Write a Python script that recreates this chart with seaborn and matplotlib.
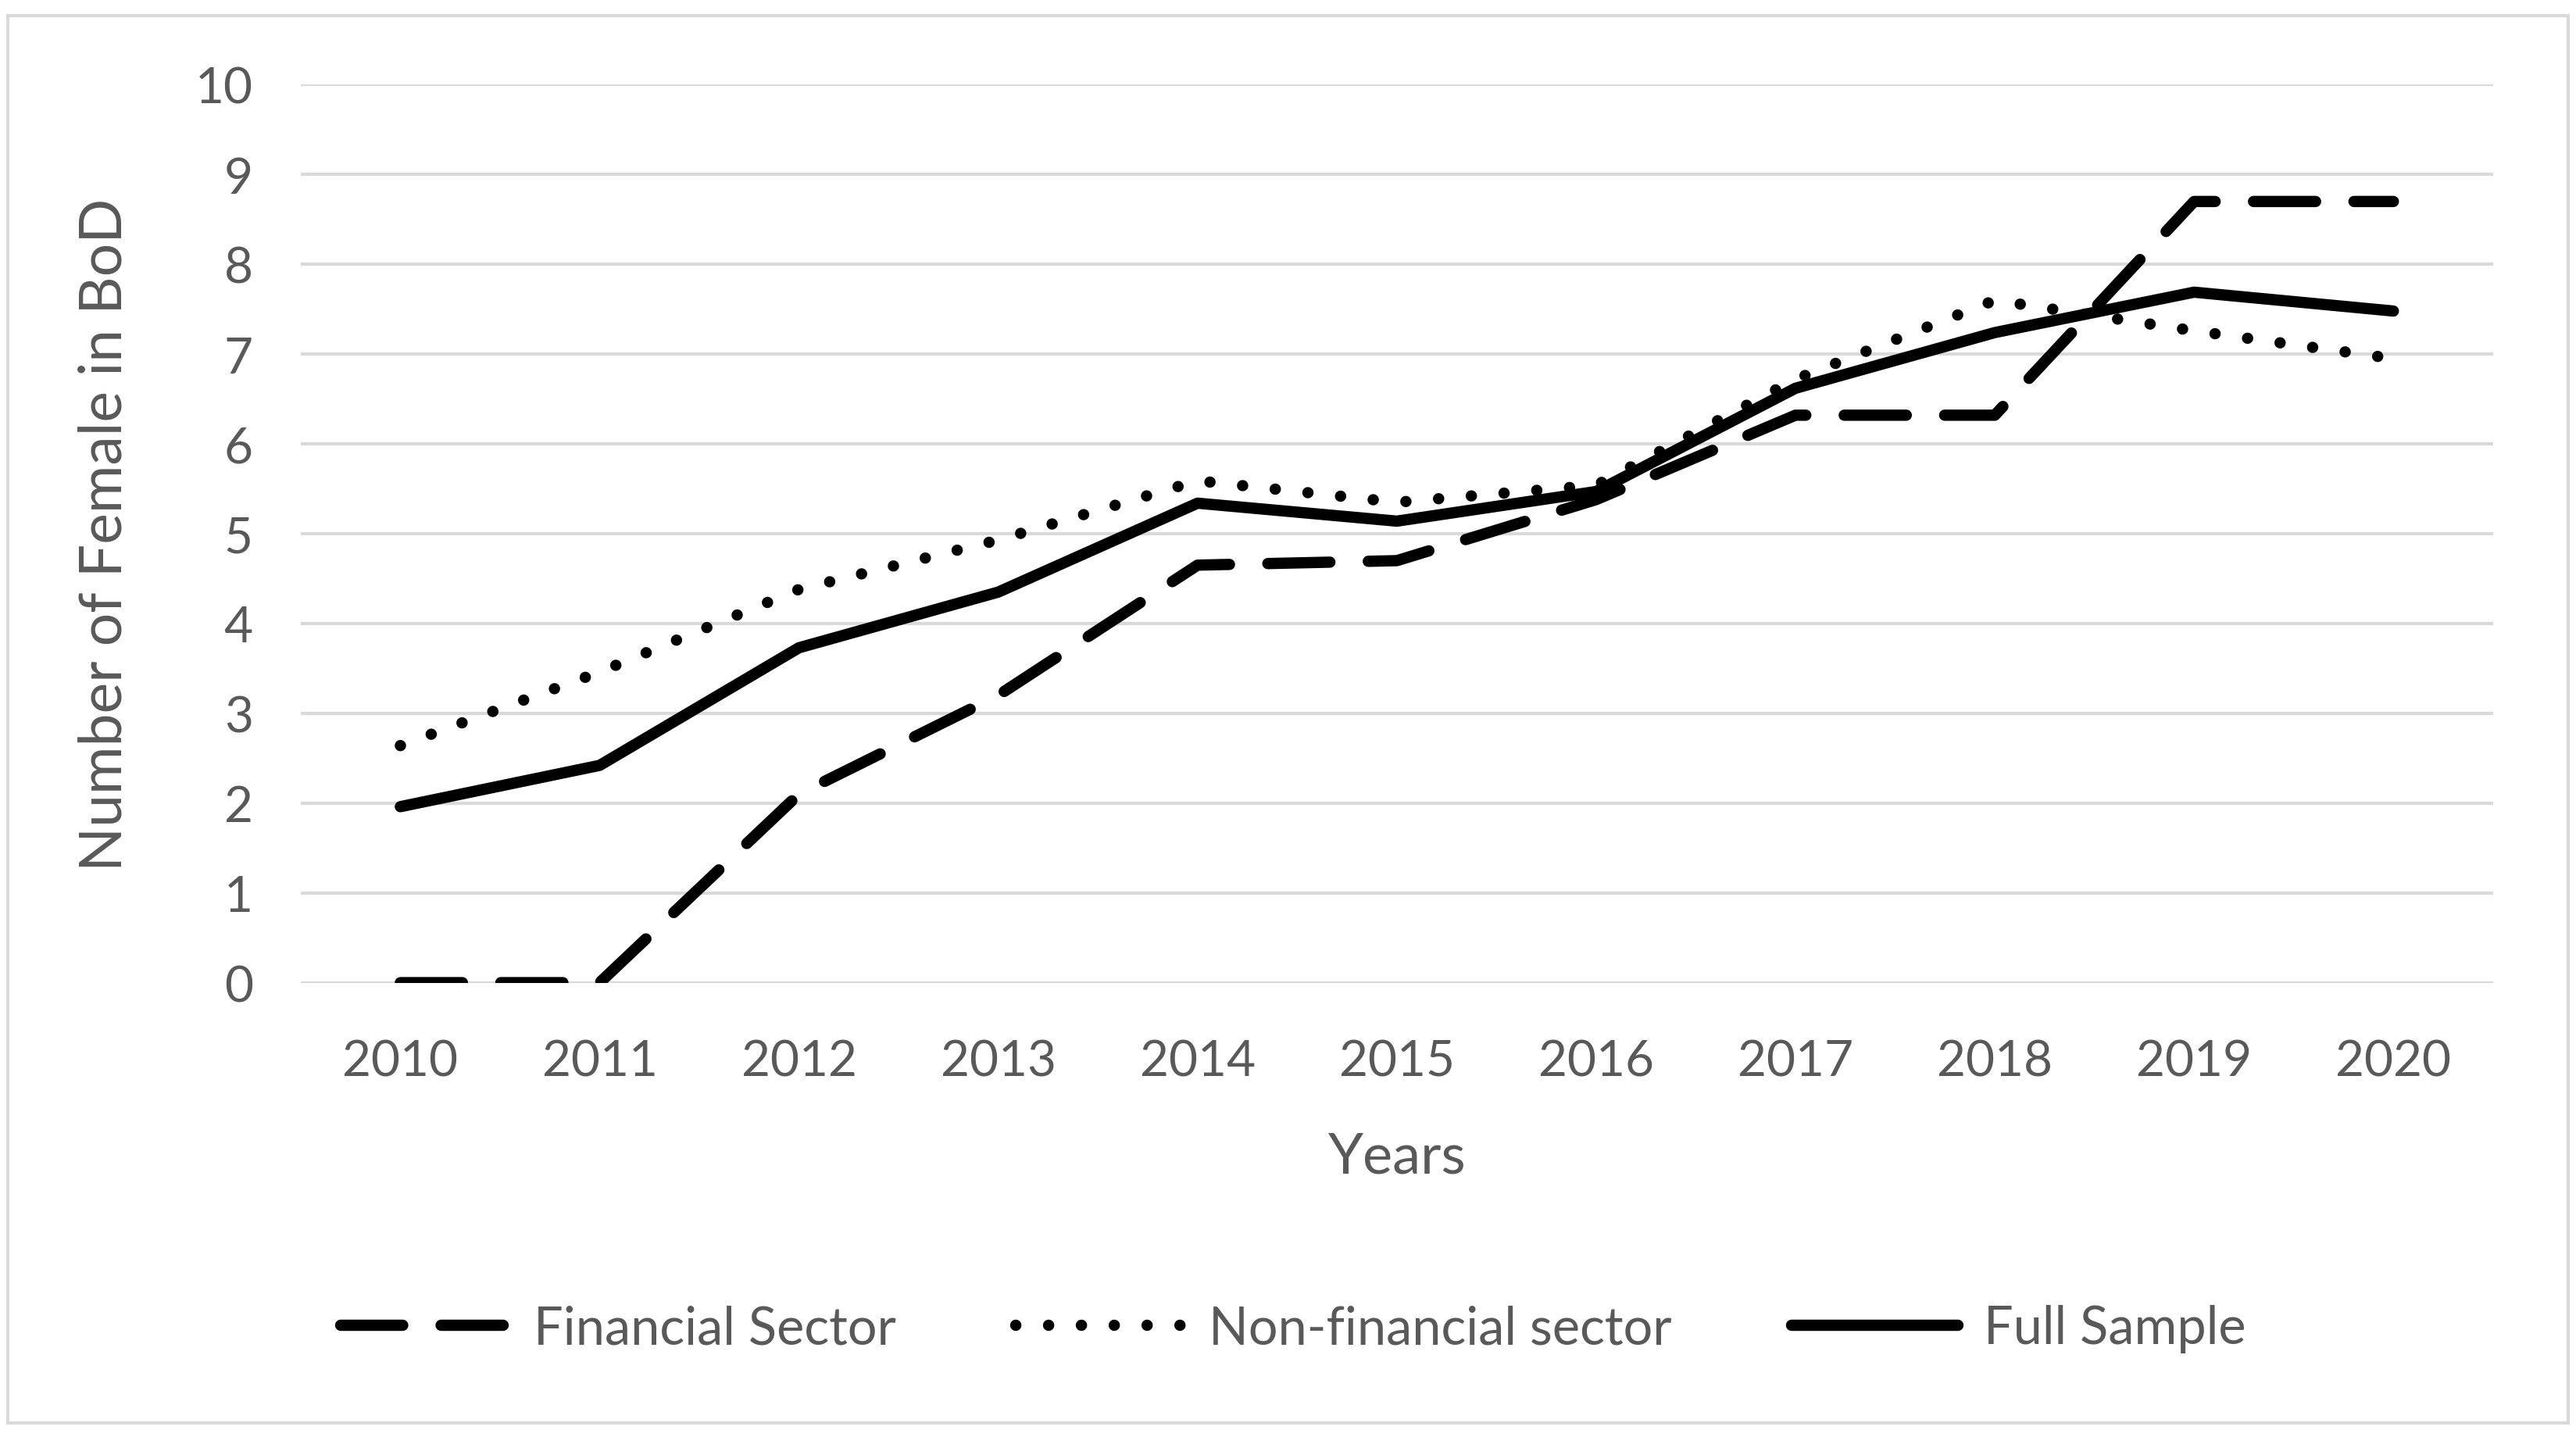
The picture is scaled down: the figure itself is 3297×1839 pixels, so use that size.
import numpy as np
import pandas as pd
import matplotlib
matplotlib.use("Agg")
import matplotlib.pyplot as plt
import seaborn as sns
from matplotlib.patches import Rectangle

# values
years = [2010, 2011, 2012, 2013, 2014, 2015, 2016, 2017, 2018, 2019, 2020]
financial = [0.0, 0.0, 2.1, 3.2, 4.65, 4.7, 5.38, 6.32, 6.32, 8.7, 8.7]
non_financial = [2.64, 3.46, 4.38, 4.93, 5.59, 5.35, 5.54, 6.72, 7.6, 7.26, 6.95]
full_sample = [1.96, 2.42, 3.73, 4.35, 5.34, 5.14, 5.47, 6.62, 7.24, 7.69, 7.48]

series_names = ["Financial Sector", "Non-financial sector", "Full Sample"]
series_values = [financial, non_financial, full_sample]

df = pd.concat(
    [pd.DataFrame({"Year": years, "Value": vals, "Series": name})
     for name, vals in zip(series_names, series_values)],
    ignore_index=True,
)

sns.set_theme(style="white")
plt.rcParams["font.family"] = ["Lato", "DejaVu Sans"]
text_grey = "#595959"
grid_grey = "#d9d9d9"

fig = plt.figure(figsize=(16.49, 9.2), dpi=200)
ax = fig.add_axes([0.1167, 0.316, 0.8508, 0.6245])

dash_styles = {
    "Financial Sector": (5.5, 3.4),
    "Non-financial sector": (0.01, 2.9),
    "Full Sample": "",
}
sns.lineplot(
    data=df, x="Year", y="Value", hue="Series", style="Series",
    palette=["black"] * 3, dashes=dash_styles, linewidth=5.2,
    dash_capstyle="round", solid_capstyle="round", solid_joinstyle="round",
    legend=False, ax=ax,
)

ax.set_xlim(2009.5, 2020.5)
ax.set_ylim(0, 10)
ax.set_xticks(years)
ax.set_yticks(range(0, 11))
ax.yaxis.grid(True, color=grid_grey, linewidth=1.5)
ax.set_axisbelow(True)
for s in ax.spines.values():
    s.set_visible(False)
ax.tick_params(axis="both", length=0, labelsize=23, labelcolor=text_grey)
ax.tick_params(axis="y", pad=22)
ax.tick_params(axis="x", pad=26)

ax.set_xlabel("Years", fontsize=26, color=text_grey)
ax.set_ylabel("Number of Female in BoD", fontsize=27, color=text_grey)
ax.xaxis.set_label_coords(0.5, -0.165, transform=ax.transAxes)
ax.yaxis.set_label_coords(-0.077, 0.5, transform=ax.transAxes)

handles = ax.get_lines()[:3]
fig.legend(
    handles, series_names, loc="center", bbox_to_anchor=(0.502, 0.0755),
    ncol=3, frameon=False, fontsize=24, labelcolor=text_grey,
    handlelength=3.2, handletextpad=0.5, columnspacing=2.3,
)

# light outer border like the chart area frame
fig.patches.append(Rectangle((0.003, 0.01), 0.9937, 0.9786, transform=fig.transFigure,
                             fill=False, edgecolor=grid_grey, linewidth=1.5))

fig.savefig("out.png", dpi=200, facecolor="white")
